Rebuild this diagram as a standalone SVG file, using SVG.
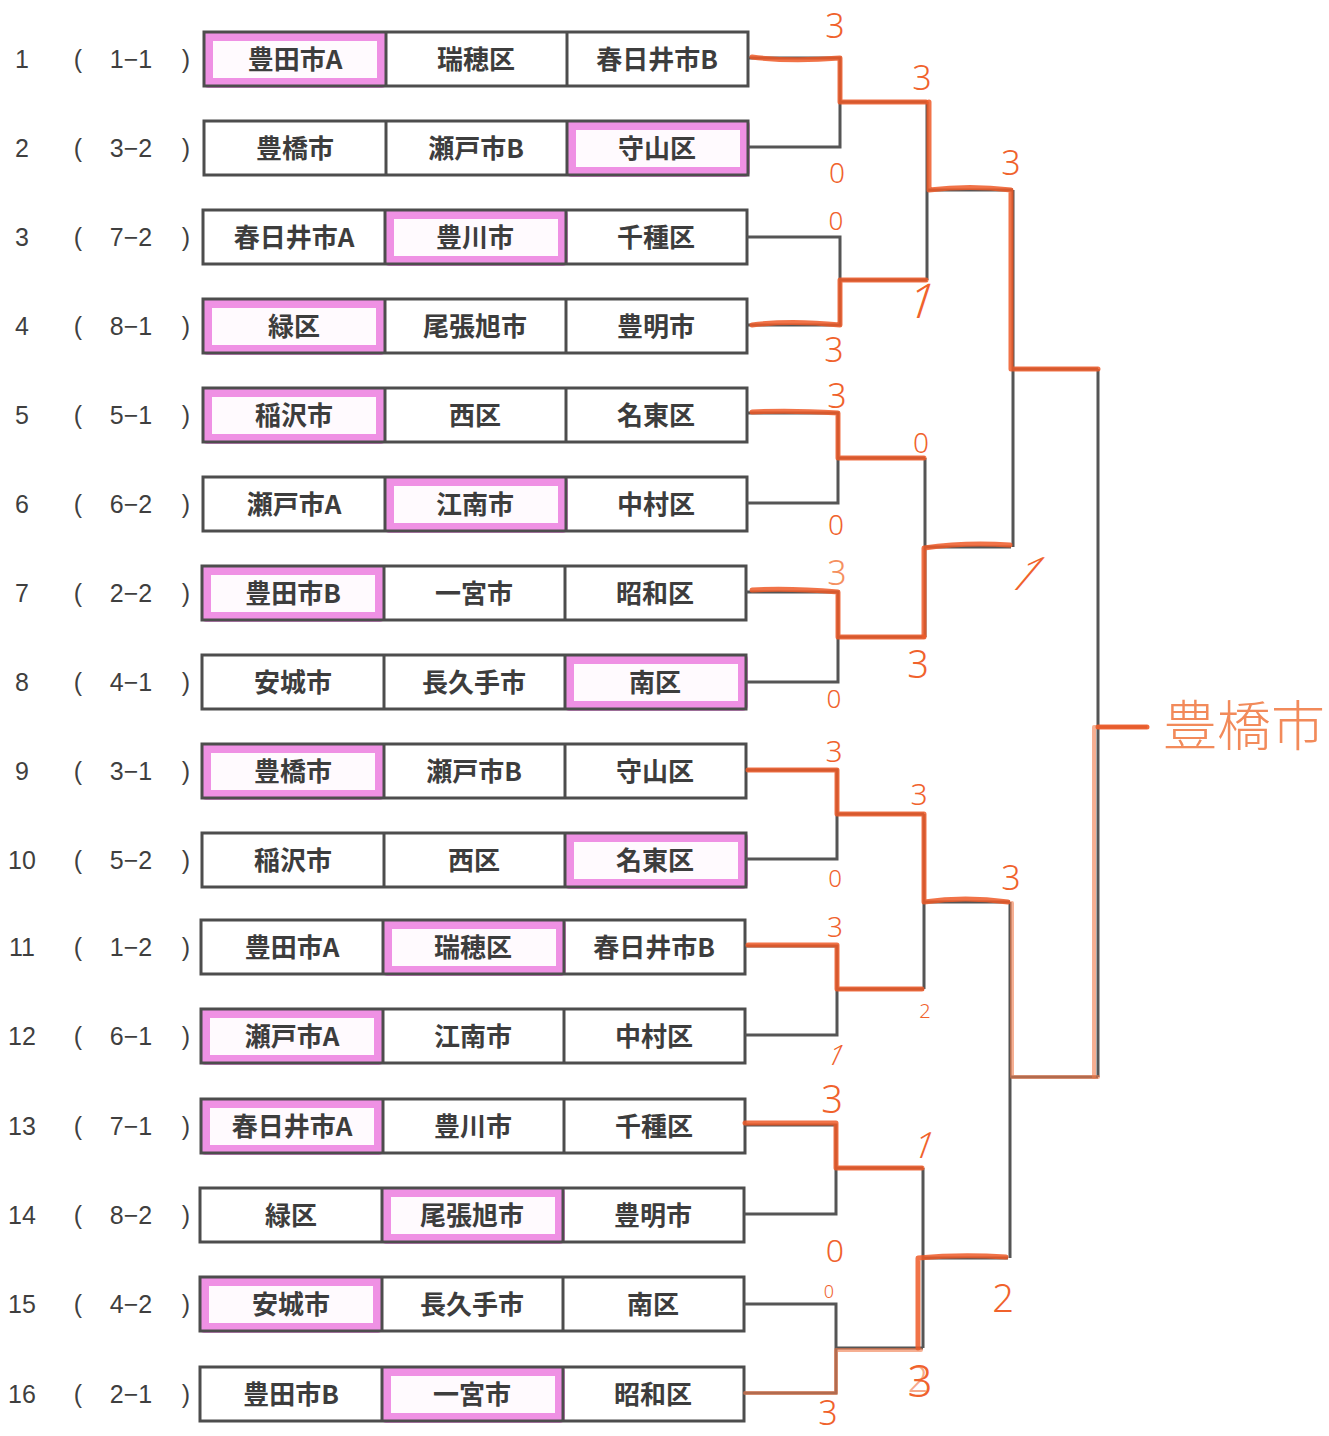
<svg xmlns="http://www.w3.org/2000/svg" width="1329" height="1436" viewBox="0 0 1329 1436">
<style>
.bg{fill:#ffffff}
.box{fill:none;stroke:#4d4d4d;stroke-width:3}
.dv{stroke:#4d4d4d;stroke-width:3}
.hl{fill:#fffafe;stroke:#ee86e2;stroke-width:10;stroke-linejoin:round;opacity:0.9}
.cell{font-family:"Noto Sans CJK JP","Noto Sans",sans-serif;font-weight:700;font-size:26px;fill:#3d3d3d;text-anchor:middle}
.lab{font-family:"Liberation Sans Narrow","Liberation Sans",sans-serif;font-size:25px;fill:#3f3f3f;text-anchor:middle}
.br{fill:none;stroke:#555;stroke-width:3}
.win{fill:none;stroke:#ee5a28;stroke-width:5;stroke-linejoin:round;stroke-linecap:round;opacity:0.85}
.winl{fill:none;stroke:#f07a4a;stroke-width:4;stroke-linejoin:round;stroke-linecap:round;opacity:0.6}
.sc{font-family:"Noto Sans","DejaVu Sans",sans-serif;font-weight:300;font-size:34px;fill:#f0622c;text-anchor:middle}
.hand{font-family:"Noto Sans CJK JP",sans-serif;font-weight:300;font-size:54px;fill:#f28a5a}
</style>
<rect class="bg" x="0" y="0" width="1329" height="1436"/>

<g id="row1" transform="translate(204,59)"><rect class="hl" x="4" y="-23" width="174" height="47"/><rect class="box" x="0" y="-27" width="544" height="54"/><line class="dv" x1="182" y1="-27" x2="182" y2="27"/><line class="dv" x1="363" y1="-27" x2="363" y2="27"/><text class="cell" x="91" y="10">豊田市A</text><text class="cell" x="272" y="10">瑞穂区</text><text class="cell" x="453" y="10">春日井市B</text><text class="lab" x="-182" y="9">1</text><text class="lab" x="-126" y="9">(</text><text class="lab" x="-73" y="9">1−1</text><text class="lab" x="-18" y="9">)</text></g>
<g id="row2" transform="translate(204,148)"><rect class="hl" x="367" y="-23" width="174" height="47"/><rect class="box" x="0" y="-27" width="544" height="54"/><line class="dv" x1="182" y1="-27" x2="182" y2="27"/><line class="dv" x1="363" y1="-27" x2="363" y2="27"/><text class="cell" x="91" y="10">豊橋市</text><text class="cell" x="272" y="10">瀬戸市B</text><text class="cell" x="453" y="10">守山区</text><text class="lab" x="-182" y="9">2</text><text class="lab" x="-126" y="9">(</text><text class="lab" x="-73" y="9">3−2</text><text class="lab" x="-18" y="9">)</text></g>
<g id="row3" transform="translate(203,237)"><rect class="hl" x="186" y="-23" width="174" height="47"/><rect class="box" x="0" y="-27" width="544" height="54"/><line class="dv" x1="182" y1="-27" x2="182" y2="27"/><line class="dv" x1="363" y1="-27" x2="363" y2="27"/><text class="cell" x="91" y="10">春日井市A</text><text class="cell" x="272" y="10">豊川市</text><text class="cell" x="453" y="10">千種区</text><text class="lab" x="-181" y="9">3</text><text class="lab" x="-125" y="9">(</text><text class="lab" x="-72" y="9">7−2</text><text class="lab" x="-17" y="9">)</text></g>
<g id="row4" transform="translate(203,326)"><rect class="hl" x="4" y="-23" width="174" height="47"/><rect class="box" x="0" y="-27" width="544" height="54"/><line class="dv" x1="182" y1="-27" x2="182" y2="27"/><line class="dv" x1="363" y1="-27" x2="363" y2="27"/><text class="cell" x="91" y="10">緑区</text><text class="cell" x="272" y="10">尾張旭市</text><text class="cell" x="453" y="10">豊明市</text><text class="lab" x="-181" y="9">4</text><text class="lab" x="-125" y="9">(</text><text class="lab" x="-72" y="9">8−1</text><text class="lab" x="-17" y="9">)</text></g>
<g id="row5" transform="translate(203,415)"><rect class="hl" x="4" y="-23" width="174" height="47"/><rect class="box" x="0" y="-27" width="544" height="54"/><line class="dv" x1="182" y1="-27" x2="182" y2="27"/><line class="dv" x1="363" y1="-27" x2="363" y2="27"/><text class="cell" x="91" y="10">稲沢市</text><text class="cell" x="272" y="10">西区</text><text class="cell" x="453" y="10">名東区</text><text class="lab" x="-181" y="9">5</text><text class="lab" x="-125" y="9">(</text><text class="lab" x="-72" y="9">5−1</text><text class="lab" x="-17" y="9">)</text></g>
<g id="row6" transform="translate(203,504)"><rect class="hl" x="186" y="-23" width="174" height="47"/><rect class="box" x="0" y="-27" width="544" height="54"/><line class="dv" x1="182" y1="-27" x2="182" y2="27"/><line class="dv" x1="363" y1="-27" x2="363" y2="27"/><text class="cell" x="91" y="10">瀬戸市A</text><text class="cell" x="272" y="10">江南市</text><text class="cell" x="453" y="10">中村区</text><text class="lab" x="-181" y="9">6</text><text class="lab" x="-125" y="9">(</text><text class="lab" x="-72" y="9">6−2</text><text class="lab" x="-17" y="9">)</text></g>
<g id="row7" transform="translate(202,593)"><rect class="hl" x="4" y="-23" width="174" height="47"/><rect class="box" x="0" y="-27" width="544" height="54"/><line class="dv" x1="182" y1="-27" x2="182" y2="27"/><line class="dv" x1="363" y1="-27" x2="363" y2="27"/><text class="cell" x="91" y="10">豊田市B</text><text class="cell" x="272" y="10">一宮市</text><text class="cell" x="453" y="10">昭和区</text><text class="lab" x="-180" y="9">7</text><text class="lab" x="-124" y="9">(</text><text class="lab" x="-71" y="9">2−2</text><text class="lab" x="-16" y="9">)</text></g>
<g id="row8" transform="translate(202,682)"><rect class="hl" x="367" y="-23" width="174" height="47"/><rect class="box" x="0" y="-27" width="544" height="54"/><line class="dv" x1="182" y1="-27" x2="182" y2="27"/><line class="dv" x1="363" y1="-27" x2="363" y2="27"/><text class="cell" x="91" y="10">安城市</text><text class="cell" x="272" y="10">長久手市</text><text class="cell" x="453" y="10">南区</text><text class="lab" x="-180" y="9">8</text><text class="lab" x="-124" y="9">(</text><text class="lab" x="-71" y="9">4−1</text><text class="lab" x="-16" y="9">)</text></g>
<g id="row9" transform="translate(202,771)"><rect class="hl" x="4" y="-23" width="174" height="47"/><rect class="box" x="0" y="-27" width="544" height="54"/><line class="dv" x1="182" y1="-27" x2="182" y2="27"/><line class="dv" x1="363" y1="-27" x2="363" y2="27"/><text class="cell" x="91" y="10">豊橋市</text><text class="cell" x="272" y="10">瀬戸市B</text><text class="cell" x="453" y="10">守山区</text><text class="lab" x="-180" y="9">9</text><text class="lab" x="-124" y="9">(</text><text class="lab" x="-71" y="9">3−1</text><text class="lab" x="-16" y="9">)</text></g>
<g id="row10" transform="translate(202,860)"><rect class="hl" x="367" y="-23" width="174" height="47"/><rect class="box" x="0" y="-27" width="544" height="54"/><line class="dv" x1="182" y1="-27" x2="182" y2="27"/><line class="dv" x1="363" y1="-27" x2="363" y2="27"/><text class="cell" x="91" y="10">稲沢市</text><text class="cell" x="272" y="10">西区</text><text class="cell" x="453" y="10">名東区</text><text class="lab" x="-180" y="9">10</text><text class="lab" x="-124" y="9">(</text><text class="lab" x="-71" y="9">5−2</text><text class="lab" x="-16" y="9">)</text></g>
<g id="row11" transform="translate(201,947)"><rect class="hl" x="186" y="-23" width="174" height="47"/><rect class="box" x="0" y="-27" width="544" height="54"/><line class="dv" x1="182" y1="-27" x2="182" y2="27"/><line class="dv" x1="363" y1="-27" x2="363" y2="27"/><text class="cell" x="91" y="10">豊田市A</text><text class="cell" x="272" y="10">瑞穂区</text><text class="cell" x="453" y="10">春日井市B</text><text class="lab" x="-179" y="9">11</text><text class="lab" x="-123" y="9">(</text><text class="lab" x="-70" y="9">1−2</text><text class="lab" x="-15" y="9">)</text></g>
<g id="row12" transform="translate(201,1036)"><rect class="hl" x="4" y="-23" width="174" height="47"/><rect class="box" x="0" y="-27" width="544" height="54"/><line class="dv" x1="182" y1="-27" x2="182" y2="27"/><line class="dv" x1="363" y1="-27" x2="363" y2="27"/><text class="cell" x="91" y="10">瀬戸市A</text><text class="cell" x="272" y="10">江南市</text><text class="cell" x="453" y="10">中村区</text><text class="lab" x="-179" y="9">12</text><text class="lab" x="-123" y="9">(</text><text class="lab" x="-70" y="9">6−1</text><text class="lab" x="-15" y="9">)</text></g>
<g id="row13" transform="translate(201,1126)"><rect class="hl" x="4" y="-23" width="174" height="47"/><rect class="box" x="0" y="-27" width="544" height="54"/><line class="dv" x1="182" y1="-27" x2="182" y2="27"/><line class="dv" x1="363" y1="-27" x2="363" y2="27"/><text class="cell" x="91" y="10">春日井市A</text><text class="cell" x="272" y="10">豊川市</text><text class="cell" x="453" y="10">千種区</text><text class="lab" x="-179" y="9">13</text><text class="lab" x="-123" y="9">(</text><text class="lab" x="-70" y="9">7−1</text><text class="lab" x="-15" y="9">)</text></g>
<g id="row14" transform="translate(200,1215)"><rect class="hl" x="186" y="-23" width="174" height="47"/><rect class="box" x="0" y="-27" width="544" height="54"/><line class="dv" x1="182" y1="-27" x2="182" y2="27"/><line class="dv" x1="363" y1="-27" x2="363" y2="27"/><text class="cell" x="91" y="10">緑区</text><text class="cell" x="272" y="10">尾張旭市</text><text class="cell" x="453" y="10">豊明市</text><text class="lab" x="-178" y="9">14</text><text class="lab" x="-122" y="9">(</text><text class="lab" x="-69" y="9">8−2</text><text class="lab" x="-14" y="9">)</text></g>
<g id="row15" transform="translate(200,1304)"><rect class="hl" x="4" y="-23" width="174" height="47"/><rect class="box" x="0" y="-27" width="544" height="54"/><line class="dv" x1="182" y1="-27" x2="182" y2="27"/><line class="dv" x1="363" y1="-27" x2="363" y2="27"/><text class="cell" x="91" y="10">安城市</text><text class="cell" x="272" y="10">長久手市</text><text class="cell" x="453" y="10">南区</text><text class="lab" x="-178" y="9">15</text><text class="lab" x="-122" y="9">(</text><text class="lab" x="-69" y="9">4−2</text><text class="lab" x="-14" y="9">)</text></g>
<g id="row16" transform="translate(200,1394)"><rect class="hl" x="186" y="-23" width="174" height="47"/><rect class="box" x="0" y="-27" width="544" height="54"/><line class="dv" x1="182" y1="-27" x2="182" y2="27"/><line class="dv" x1="363" y1="-27" x2="363" y2="27"/><text class="cell" x="91" y="10">豊田市B</text><text class="cell" x="272" y="10">一宮市</text><text class="cell" x="453" y="10">昭和区</text><text class="lab" x="-178" y="9">16</text><text class="lab" x="-122" y="9">(</text><text class="lab" x="-69" y="9">2−1</text><text class="lab" x="-14" y="9">)</text></g>

<g id="connectors">
<path class="br" d="M748,58 H840 V147 H748 M840,102 H927"/>
<path class="br" d="M747,237 H840 V325 H747 M840,280 H927"/>
<path class="br" d="M747,413 H838 V503 H747 M838,458 H925"/>
<path class="br" d="M746,592 H838 V682 H746 M838,637 H925"/>
<path class="br" d="M746,770 H837 V859 H746 M837,814 H924"/>
<path class="br" d="M745,946 H837 V1035 H745 M837,989 H924"/>
<path class="br" d="M745,1125 H836 V1214 H744 M836,1168 H923"/>
<path class="br" d="M744,1304 H836 V1393 H744 M836,1348 H923"/>
<path class="br" d="M927,102 V280 M927,190 H1013"/>
<path class="br" d="M925,458 V637 M925,547 H1011"/>
<path class="br" d="M924,814 V989 M924,902 H1010"/>
<path class="br" d="M923,1168 V1348 M923,1258 H1008"/>
<path class="br" d="M1013,190 V547 M1013,369 H1098"/>
<path class="br" d="M1010,902 V1258 M1010,1077 H1098"/>
<path class="br" d="M1098,369 V1077 M1098,727 H1147"/>
</g>

<g id="winner-paths">
<path class="win" d="M752,57 Q790,62 840,58 V102 H926"/>
<path class="win" d="M929,102 V190 Q970,185 1011,190 V369 H1098"/>
<path class="win" d="M752,325 Q790,320 840,325 V280 H926"/>
<path class="win" d="M752,412 Q790,410 838,413 V458 H924"/>
<path class="win" d="M752,590 Q790,588 838,592 V637 H924"/>
<path class="win" d="M924,636 V548 Q965,542 1010,545"/>
<path class="win" d="M748,770 H837 V814 H924 V902 Q965,896 1008,902"/>
<path class="winl" d="M1012,903 V1077 H1098"/>
<path class="winl" d="M1094,1077 V727 H1147"/>
<path class="win" d="M1098,727 H1147"/>
<path class="win" d="M748,945 H837 V989 H922"/>
<path class="win" d="M745,1123 H836 V1168 H922"/>
<path class="winl" d="M745,1393 H836 V1350 H921"/>
<path class="win" d="M918,1348 V1258 Q960,1254 1006,1257"/>
</g>

<g id="scores">
<text class="sc" x="835" y="38">3</text>
<text class="sc" x="837" y="183" style="font-size:28px">0</text>
<text class="sc" x="836" y="230" style="font-size:26px">0</text>
<text class="sc" x="834" y="362">3</text>
<text class="sc" x="922" y="90">3</text>
<text class="sc" transform="translate(917,318) skewX(-18)" style="font-size:48px">1</text>
<text class="sc" x="1011" y="175">3</text>
<text class="sc" transform="translate(1015,590) skewX(-40)" style="font-size:46px">1</text>
<text class="sc" x="837" y="408">3</text>
<text class="sc" x="921" y="453" style="font-size:28px">0</text>
<text class="sc" x="836" y="535" style="font-size:28px">0</text>
<text class="sc" x="837" y="585" style="fill:#f59060">3</text>
<text class="sc" x="918" y="678" style="font-size:38px">3</text>
<text class="sc" x="834" y="708" style="font-size:26px">0</text>
<text class="sc" x="834" y="762" style="font-size:30px">3</text>
<text class="sc" x="919" y="805" style="font-size:30px">3</text>
<text class="sc" x="835" y="887" style="font-size:24px">0</text>
<text class="sc" x="1011" y="890">3</text>
<text class="sc" x="835" y="937" style="font-size:28px">3</text>
<text class="sc" x="925" y="1018" style="font-size:20px">2</text>
<text class="sc" transform="translate(832,1065) skewX(-25)" style="font-size:28px">1</text>
<text class="sc" x="832" y="1113" style="font-size:38px">3</text>
<text class="sc" transform="translate(920,1158) skewX(-20)" style="font-size:36px">1</text>
<text class="sc" x="835" y="1262" style="font-size:32px">0</text>
<text class="sc" x="829" y="1298" style="font-size:18px">0</text>
<text class="sc" x="1003" y="1312" style="font-size:38px">2</text>
<text class="sc" x="918" y="1392" style="font-size:36px;opacity:0.55">2</text>
<text class="sc" x="920" y="1397" style="font-size:44px">3</text>
<text class="sc" x="828" y="1425" style="font-size:34px">3</text>
</g>

<g id="champion">
<text class="hand" x="1163" y="746">豊橋市</text>
</g>
</svg>
